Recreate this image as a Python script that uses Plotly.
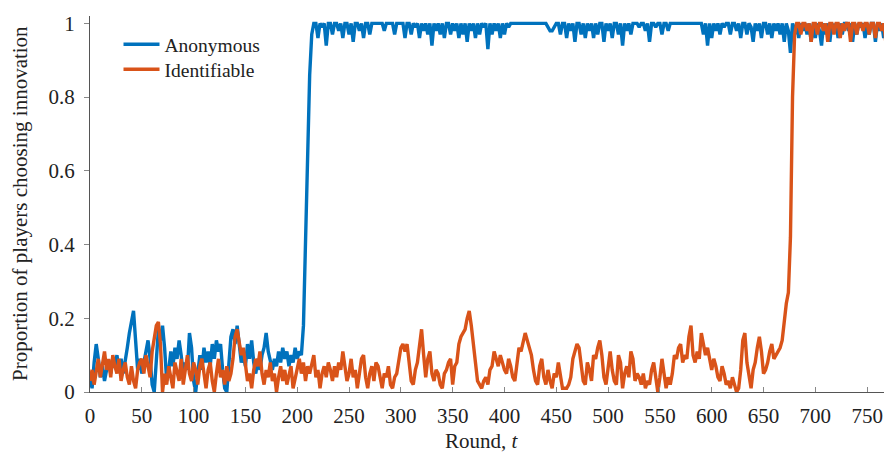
import plotly.graph_objects as go

# Rounds sampled every 2 rounds (0 .. 790)
rounds = list(range(0, 792, 2))

# Proportion (in percent) of players choosing innovation, Anonymous condition
anonymous_pct = [
    4, 1, 8, 13, 9, 4, 7, 3, 6, 8, 5, 9, 7, 10, 6, 9, 5, 8, 12, 16, 19, 22, 14, 6, 9,
    5, 8, 11, 14, 9, 2, 0, 10, 17, 14, 18, 12, 3, 6, 11, 7, 12, 9, 14, 10, 5, 8, 6, 16, 12,
    3, 0, 5, 10, 6, 12, 8, 11, 7, 13, 9, 14, 11, 13, 6, 1, 0, 8, 15, 17, 13, 18, 12, 8, 10,
    7, 13, 9, 14, 8, 5, 9, 6, 10, 12, 16, 11, 8, 6, 9, 7, 11, 8, 12, 9, 11, 7, 10, 8, 12,
    9, 11, 10, 18, 38, 65, 86, 97, 100, 100, 96, 100, 99, 100, 94, 100, 100, 97, 100, 100, 98, 100, 96, 100, 100,
    97, 100, 95, 100, 100, 98, 100, 96, 100, 100, 97, 100, 100, 100, 100, 100, 100, 98, 100, 100, 100, 100, 97, 100, 100,
    100, 100, 96, 100, 100, 97, 100, 99, 100, 96, 100, 98, 100, 97, 100, 94, 100, 98, 100, 97, 100, 96, 100, 100, 97,
    100, 98, 100, 96, 100, 97, 100, 95, 100, 98, 100, 96, 100, 97, 100, 99, 100, 93, 100, 97, 100, 98, 100, 96, 100,
    97, 100, 99, 100, 100, 100, 100, 100, 100, 100, 100, 100, 100, 100, 100, 100, 100, 100, 100, 100, 100, 99, 98, 98, 99,
    100, 100, 97, 100, 100, 96, 100, 98, 100, 95, 100, 100, 97, 100, 96, 100, 98, 100, 96, 100, 97, 100, 100, 95, 100,
    98, 100, 96, 100, 100, 97, 100, 94, 100, 98, 100, 97, 100, 100, 100, 99, 100, 100, 98, 100, 95, 100, 100, 99, 100,
    100, 97, 100, 100, 98, 100, 100, 100, 100, 100, 100, 100, 100, 100, 100, 100, 100, 100, 100, 100, 100, 97, 100, 94, 100,
    96, 100, 98, 100, 97, 100, 99, 100, 100, 97, 100, 100, 98, 100, 96, 100, 100, 97, 100, 99, 95, 100, 98, 100, 96,
    100, 100, 97, 100, 96, 100, 98, 100, 97, 100, 95, 100, 98, 92, 100, 97, 100, 96, 100, 98, 100, 97, 100, 95, 100,
    96, 100, 98, 94, 100, 97, 100, 95, 100, 98, 100, 96, 100, 97, 100, 100, 98, 100, 95, 100, 97, 100, 99, 100, 96,
    100, 97, 100, 100, 95, 100, 98, 100, 96, 100, 100, 97, 100, 100, 100, 97, 100, 100, 96, 100, 100,
]

# Proportion (in percent) of players choosing innovation, Identifiable condition
identifiable_pct = [
    3, 6, 2, 5, 9, 4, 7, 11, 6, 9, 4, 10, 7, 5, 9, 3, 6, 8, 4, 2, 7, 3, 1, 6, 8,
    9, 5, 10, 7, 4, 11, 14, 18, 19, 13, 0, 5, 2, 7, 4, 1, 8, 5, 3, 9, 2, 6, 10, 5, 3,
    8, 6, 2, 7, 9, 4, 1, 6, 8, 3, 0, 5, 9, 4, 6, 2, 7, 3, 5, 9, 15, 17, 14, 10, 12,
    8, 3, 5, 1, 6, 9, 7, 11, 5, 2, 6, 4, 8, 3, 5, 0, 4, 7, 3, 6, 2, 5, 7, 1, 4,
    6, 9, 5, 8, 3, 7, 5, 8, 10, 4, 6, 1, 5, 7, 4, 8, 6, 3, 7, 4, 8, 6, 11, 7, 3,
    5, 9, 4, 6, 1, 6, 9, 10, 4, 1, 5, 7, 3, 8, 7, 4, 1, 5, 4, 7, 2, 1, 4, 5, 8,
    12, 13, 11, 13, 7, 3, 2, 6, 8, 12, 17, 10, 4, 9, 11, 5, 3, 6, 5, 2, 1, 5, 6, 8, 9,
    2, 7, 8, 13, 15, 16, 17, 20, 22, 18, 12, 8, 3, 2, 1, 3, 4, 2, 6, 7, 11, 9, 7, 10, 8,
    6, 5, 9, 7, 4, 3, 8, 12, 11, 14, 16, 14, 12, 10, 6, 3, 2, 7, 9, 4, 2, 6, 3, 1, 5,
    4, 8, 5, 1, 1, 1, 2, 4, 9, 11, 13, 12, 7, 3, 2, 8, 6, 3, 10, 9, 12, 14, 10, 4, 2,
    7, 11, 6, 3, 2, 10, 8, 1, 5, 7, 4, 11, 9, 3, 5, 4, 2, 5, 1, 3, 2, 6, 8, 4, 0,
    4, 9, 5, 1, 4, 2, 5, 10, 9, 12, 13, 8, 10, 9, 15, 18, 10, 8, 11, 9, 16, 13, 10, 12, 9,
    6, 9, 7, 4, 3, 7, 5, 2, 3, 1, 4, 2, 0, 1, 6, 14, 16, 8, 5, 1, 6, 8, 12, 15, 11,
    5, 6, 8, 11, 13, 9, 10, 11, 12, 14, 20, 24, 27, 42, 80, 97, 100, 100, 97, 100, 100, 98, 100, 95, 100,
    100, 97, 100, 100, 98, 100, 95, 100, 100, 97, 100, 100, 96, 100, 98, 100, 100, 95, 100, 100, 97, 100, 100, 98, 100,
    100, 97, 100, 100, 96, 100, 100, 98, 100, 95, 100, 100, 97, 100, 98, 100, 100, 96, 100, 100, 97,
]

series_names = ["Anonymous", "Identifiable"]
series_colors = ["#0072BD", "#D95319"]

x_tick_vals = list(range(0, 751, 50))
y_tick_vals = [0, 0.2, 0.4, 0.6, 0.8, 1]
y_tick_text = ["0", "0.2", "0.4", "0.6", "0.8", "1"]

x_title = "Round, <i>t</i>"
y_title = "Proportion of players choosing innovation"

FONT = "Liberation Serif, Times New Roman, serif"
W, H = 892, 454
# The page body adds an 8px offset; margins compensate so the plot area
# lands at window x 90..892, y 16..392.
OFF = 8
ML, MR, MT, MB = 90 - OFF, OFF, 16 - OFF, 454 - (392 - OFF)
pw = W - ML - MR
ph = H - MT - MB

fig = go.Figure()
legend_ids = ["legend", "legend2"]
for name, color, pct, lg in zip(series_names, series_colors,
                                [anonymous_pct, identifiable_pct], legend_ids):
    fig.add_trace(go.Scatter(
        x=rounds,
        y=[p / 100 for p in pct],
        mode="lines",
        name=name,
        legend=lg,
        line=dict(color=color, width=3.4),
    ))

fig.add_annotation(
    text=x_title, xref="paper", yref="paper",
    x=(482 - OFF - ML) / pw, y=-((441 - OFF) - (H - MB)) / ph,
    xanchor="center", yanchor="middle", showarrow=False,
    font=dict(family=FONT, size=21, color="#222"),
)
fig.add_annotation(
    text=y_title, xref="paper", yref="paper",
    x=-(ML - (20 - OFF)) / pw, y=0.5, textangle=-90,
    xanchor="center", yanchor="middle", showarrow=False,
    font=dict(family=FONT, size=21, color="#222"),
)

def legend_box(row_center_window_y):
    top_fig = (row_center_window_y - OFF) - 19
    return dict(
        x=(118.5 - OFF - ML) / pw,
        y=1 - (top_fig - MT) / ph,
        xanchor="left", yanchor="top",
        bgcolor="rgba(0,0,0,0)", borderwidth=0,
        itemwidth=36,
        font=dict(family=FONT, size=19.5, color="#222"),
    )

fig.update_layout(
    width=W,
    height=H,
    margin=dict(l=ML, r=MR, t=MT, b=MB),
    paper_bgcolor="white",
    plot_bgcolor="white",
    font=dict(family=FONT, size=21, color="#222"),
    showlegend=True,
    legend=legend_box(44),
    legend2=legend_box(69),
    xaxis=dict(
        range=[0, 774],
        tickvals=x_tick_vals,
        ticks="inside", ticklen=5, tickcolor="#888",
        showline=True, linecolor="#555", linewidth=1,
        showgrid=False, zeroline=False, automargin=False,
        tickfont=dict(family=FONT, size=21, color="#222"),
        ticklabelstandoff=5,
    ),
    yaxis=dict(
        range=[0, 1.02],
        tickvals=y_tick_vals, ticktext=y_tick_text,
        ticks="outside", ticklen=5, tickcolor="#888",
        showline=True, linecolor="#555", linewidth=1,
        showgrid=False, zeroline=False, automargin=False,
        tickfont=dict(family=FONT, size=21, color="#222"),
        ticklabelstandoff=5,
    ),
)

fig.write_html("out.html")
